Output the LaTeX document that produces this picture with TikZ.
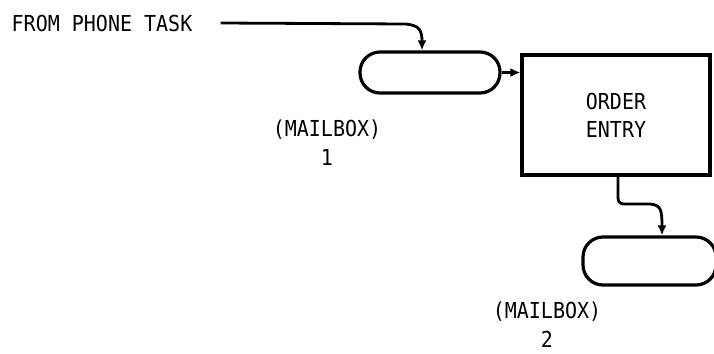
\documentclass[tikz,border=0pt]{standalone}
\usepackage{fontspec}
\setmonofont{DejaVu Sans Mono}
\usetikzlibrary{arrows.meta}
\newcommand{\tallt}[1]{\scalebox{1}[1.1]{#1}}
\begin{document}
\begin{tikzpicture}[x=1pt,y=-1pt,
  lbl/.style={font=\ttfamily\fontsize{20}{29}\selectfont, inner sep=0pt, align=center},
  mbox/.style={draw, line width=3.2pt, rounded corners=20pt, inner sep=0pt},
  obox/.style={draw, line width=3.2pt, inner sep=0pt, minimum width=188pt, minimum height=120pt, font=\ttfamily\fontsize{20}{28}\selectfont, align=center},
  conn/.style={line width=2.8pt, -{Latex[length=10pt,width=9pt]}}]
\useasboundingbox (0,0) rectangle (714,353);
\node[lbl, anchor=center] (from) at (102,23) {\tallt{FROM PHONE TASK}};
\node[mbox, minimum width=140pt, minimum height=41pt] (mb1) at (430,72.5) {};
\node[obox] (ob) at (616,115) {\tallt{ORDER}\\\tallt{ENTRY}};
\node[mbox, minimum width=133pt, minimum height=48pt] (mb2) at (649.5,261) {};
\node[lbl] (l1) at (327,143) {\tallt{(MAILBOX)}\\\tallt{1}};
\node[lbl] (l2) at (547,325) {\tallt{(MAILBOX)}\\\tallt{2}};
\coordinate (s1) at ([xshift=28pt]from.east);
\draw[conn] (s1) -- (405,24) .. controls (419,25) and (422,30) .. ([xshift=-8pt]mb1.north);
\draw[conn] (mb1.east) -- (mb1.east -| ob.west);
\draw[conn] ([xshift=2pt]ob.south) -- (618,197) .. controls (618,205) and (622,204) .. (632,204) -- (650,204) .. controls (661,205) and (662,210) .. ([xshift=12.5pt]mb2.north);
\end{tikzpicture}
\end{document}
